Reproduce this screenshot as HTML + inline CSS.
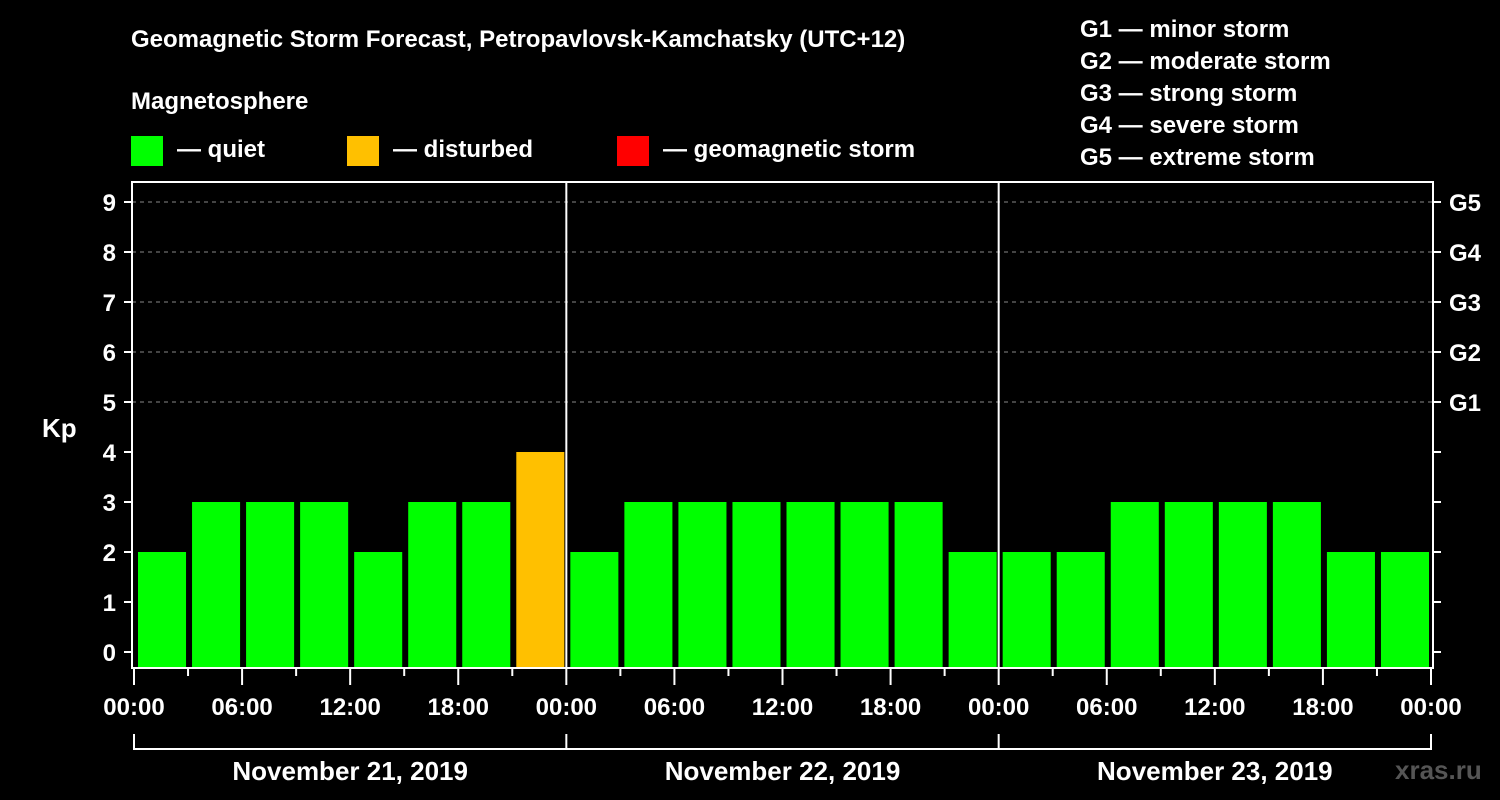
<!DOCTYPE html>
<html><head><meta charset="utf-8"><style>
html,body{margin:0;padding:0;background:#000;}
svg{display:block;font-family:"Liberation Sans",sans-serif;font-weight:bold;}
</style></head><body>
<svg id="chart" width="1500" height="800" viewBox="0 0 1500 800" xmlns="http://www.w3.org/2000/svg">
<rect width="1500" height="800" fill="#000"/>
<text x="131" y="47" fill="#fff" font-size="24">Geomagnetic Storm Forecast, Petropavlovsk-Kamchatsky (UTC+12)</text>
<text x="131" y="109" fill="#fff" font-size="24">Magnetosphere</text>
<g><rect x="131" y="136" width="32" height="30" fill="#00ff00"/><text x="177" y="157" fill="#fff" font-size="24">— quiet</text></g>
<g><rect x="347" y="136" width="32" height="30" fill="#ffc000"/><text x="393" y="157" fill="#fff" font-size="24">— disturbed</text></g>
<g><rect x="617" y="136" width="32" height="30" fill="#ff0000"/><text x="663" y="157" fill="#fff" font-size="24">— geomagnetic storm</text></g>
<g fill="#fff" font-size="24">
<text x="1080" y="37">G1 — minor storm</text><text x="1080" y="69">G2 — moderate storm</text><text x="1080" y="101">G3 — strong storm</text><text x="1080" y="133">G4 — severe storm</text><text x="1080" y="165">G5 — extreme storm</text>
</g>
<text x="42" y="437" fill="#fff" font-size="26">Kp</text>
<text x="1395" y="779" fill="#555" font-size="26">xras.ru</text>
<g id="grid"></g><g id="bars"></g><g id="axes"></g>
</svg>
<script>
const days = ["November 21, 2019","November 22, 2019","November 23, 2019"];
const kpValues = [2,3,3,3,2,3,3,4, 2,3,3,3,3,3,3,2, 2,2,3,3,3,3,2,2];
const yTicks = [0,1,2,3,4,5,6,7,8,9];
const gLabels = ["G1","G2","G3","G4","G5"];
const timeLabels = ["00:00","06:00","12:00","18:00"];
const NS="http://www.w3.org/2000/svg";
const L=134, R=1431, TOP=182, BOT=668;
const dayW=(R-L)/3, slotW=dayW/8;
function y(v){return 652-50*v;}
function x(slot){return L+slot*slotW;}
function mk(tag,attrs,parent){const e=document.createElementNS(NS,tag);for(const k in attrs)e.setAttribute(k,attrs[k]);parent.appendChild(e);return e;}
const grid=document.getElementById('grid'),bars=document.getElementById('bars'),axes=document.getElementById('axes');
yTicks.forEach(v=>{
  if(v>=5){const g=mk('line',{x1:132,x2:1433,y1:y(v),y2:y(v),stroke:'#888','stroke-dasharray':'4,4','stroke-width':1},grid);
  
  }
  const t=mk('line',{x1:124,x2:132,y1:y(v),y2:y(v),stroke:'#fff','stroke-width':2},axes);
  
  
  const t2=mk('line',{x1:1433,x2:1441,y1:y(v),y2:y(v),stroke:'#fff','stroke-width':2},axes);
  
  
  const tx=mk('text',{x:116,y:y(v)+9,fill:'#fff','font-size':24,'text-anchor':'end'},axes);tx.textContent=v;
  
  
});
gLabels.forEach((g,i)=>{const t=mk('text',{x:1449,y:y(5+i)+9,fill:'#fff','font-size':24},axes);t.textContent=g;
  
  });
kpValues.forEach((v,i)=>{
  const col=v>=5?'#ff0000':(v>=4?'#ffc000':'#00ff00');
  const b=mk('rect',{x:x(i)+4,y:y(v),width:slotW-6,height:BOT-y(v),fill:col},bars);
  
  
});
mk('rect',{x:132,y:TOP,width:1301,height:BOT-TOP,fill:'none',stroke:'#fff','stroke-width':2},axes);
for(let d=1;d<3;d++){const l=mk('line',{x1:L+d*dayW,x2:L+d*dayW,y1:TOP,y2:BOT,stroke:'#fff','stroke-width':2},axes);
  
  }
for(let s=0;s<=24;s++){
  const major=s%2===0;
  const t=mk('line',{x1:x(s),x2:x(s),y1:BOT,y2:major?BOT+17:BOT+8,stroke:'#fff','stroke-width':2},axes);
  
  
  if(major){const tx=mk('text',{x:x(s),y:715,fill:'#fff','font-size':24,'text-anchor':'middle'},axes);
    tx.textContent=timeLabels[(s/2)%4];
    
    }
}
days.forEach((d,i)=>{
  const x0=L+i*dayW;
  const p=mk('path',{d:`M${x0} 734V749H${x0+dayW}${i===2?'V734':''}`,stroke:'#fff','stroke-width':2,fill:'none'},axes);
  
  
  const t=mk('text',{x:x0+dayW/2,y:780,fill:'#fff','font-size':26,'text-anchor':'middle'},axes);t.textContent=d;
  
  
});
</script>
</body></html>
